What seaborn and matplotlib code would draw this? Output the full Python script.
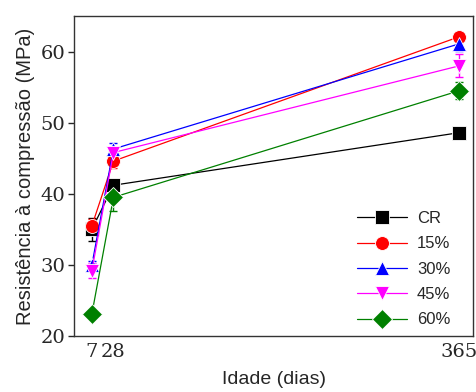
import matplotlib
matplotlib.use("Agg")
import matplotlib.pyplot as plt
import seaborn as sns
import pandas as pd

days = [7, 28, 365]
series = ["CR", "15%", "30%", "45%", "60%"]
cr = [35.0, 41.2, 48.6]
p15 = [35.5, 44.6, 62.1]
p30 = [30.0, 46.3, 61.1]
p45 = [29.2, 45.8, 58.0]
p60 = [23.1, 39.5, 54.5]
cr_err = [1.6, 0.8, 0.4]
p15_err = [1.0, 1.0, 0.5]
p30_err = [0.6, 0.8, 1.0]
p45_err = [1.1, 0.8, 1.6]
p60_err = [0.4, 1.9, 1.2]

vals = [cr, p15, p30, p45, p60]
errs = [cr_err, p15_err, p30_err, p45_err, p60_err]
colors = ["#000000", "#ff0000", "#0000ff", "#ff00ff", "#008000"]
markers = ["s", "o", "^", "v", "D"]

rows = []
for s, v, e in zip(series, vals, errs):
    for d, y, err in zip(days, v, e):
        rows.append({"Idade": d, "Resist": y, "err": err, "Serie": s})
df = pd.DataFrame(rows)

sns.set_style("white")
plt.rcParams["font.family"] = ["Liberation Sans", "DejaVu Sans"]

fig = plt.figure(figsize=(4.77, 3.92), dpi=100)
ax = fig.add_axes([0.155, 0.143, 0.837, 0.816])

for s, c, m in zip(series, colors, markers):
    sub = df[df["Serie"] == s]
    ax.errorbar(sub["Idade"], sub["Resist"], yerr=sub["err"], fmt="none",
                ecolor=c, elinewidth=1.0, capsize=3, capthick=1.0, zorder=2)

sns.lineplot(data=df, x="Idade", y="Resist", hue="Serie", style="Serie",
             hue_order=series, style_order=series,
             palette=dict(zip(series, colors)),
             markers=dict(zip(series, markers)), dashes=False,
             markersize=10, markeredgewidth=0.6, linewidth=0.9, ax=ax, zorder=3)

ax.set_xlim(-10.5, 378.5)
ax.set_ylim(20, 65)
ax.set_xticks(days)
ax.set_yticks([20, 30, 40, 50, 60])
for lab in ax.get_xticklabels() + ax.get_yticklabels():
    lab.set_family(["DejaVu Serif"])
    lab.set_fontsize(14)
ax.tick_params(axis="y", length=4, width=1, direction="out", left=True, pad=2)
ax.tick_params(axis="x", length=0, pad=5)
ax.set_xlabel("Idade (dias)", fontsize=14, labelpad=7)
ax.set_ylabel("Resistência à compressão (MPa)", fontsize=14.5, labelpad=4)
for sp in ax.spines.values():
    sp.set_color("#333333")
    sp.set_linewidth(1.0)

leg = ax.legend(loc="lower right", frameon=False, fontsize=12,
                handlelength=3.0, labelspacing=0.62, handletextpad=0.6,
                bbox_to_anchor=(0.98, -0.02))
for h in leg.legend_handles:
    h.set_markersize(10)

fig.savefig("out.png", dpi=100)
